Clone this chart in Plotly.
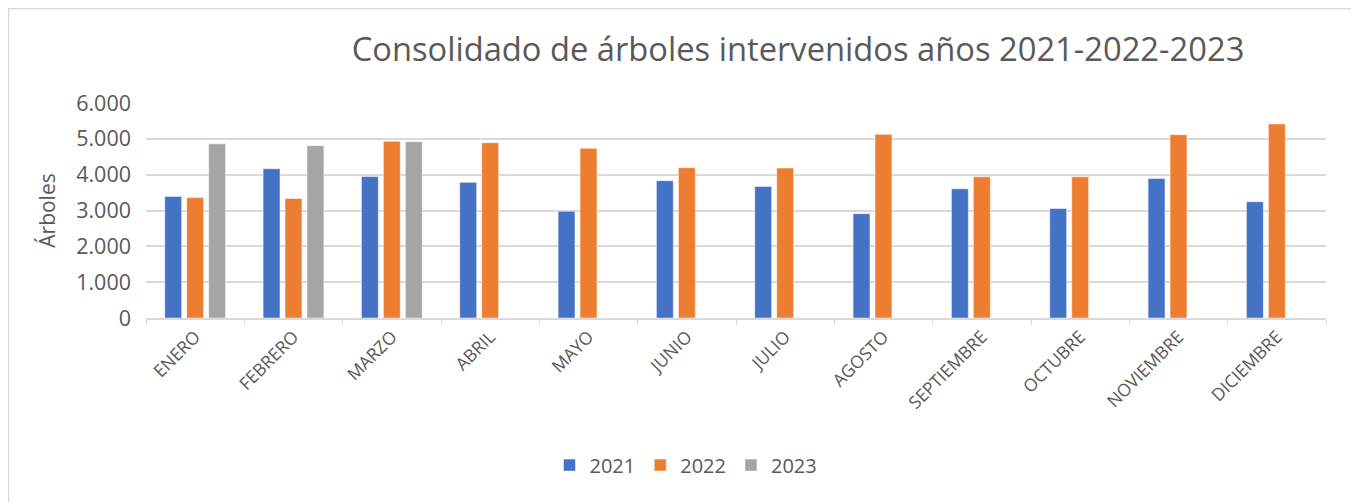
import plotly.graph_objects as go

months = ["ENERO", "FEBRERO", "MARZO", "ABRIL", "MAYO", "JUNIO", "JULIO",
          "AGOSTO", "SEPTIEMBRE", "OCTUBRE", "NOVIEMBRE", "DICIEMBRE"]
v2021 = [3390, 4165, 3950, 3785, 2980, 3830, 3670, 2910, 3605, 3055, 3895, 3245]
v2022 = [3360, 3335, 4930, 4890, 4735, 4195, 4185, 5125, 3940, 3940, 5115, 5415]
v2023 = [4860, 4810, 4920, None, None, None, None, None, None, None, None, None]

font_family = "Open Sans, Liberation Sans, sans-serif"
txt = "#595959"

fig = go.Figure()
fig.add_bar(x=months, y=v2021, name="2021", marker=dict(color="#4472C4", line=dict(color="#ffffff", width=0.5)))
fig.add_bar(x=months, y=v2022, name="2022", marker=dict(color="#ED7D31", line=dict(color="#ffffff", width=0.5)))
fig.add_bar(x=months, y=v2023, name="2023", marker=dict(color="#A5A5A5", line=dict(color="#ffffff", width=0.5)))

# page body has an 8px margin: compensate
fig.update_layout(
    width=1359, height=502,
    margin=dict(l=138, r=41, t=95, b=192, autoexpand=False),
    paper_bgcolor="white", plot_bgcolor="white",
    barmode="group", bargap=0.33, bargroupgap=0.23,
    separators=",.",
    font=dict(family=font_family, color=txt),
    title=dict(text="Consolidado de árboles intervenidos años 2021-2022-2023",
               x=0.5813, xanchor="center", y=0.9163, yanchor="middle",
               font=dict(size=32.7, color=txt, family=font_family)),
    legend=dict(orientation="h", x=0.4576, xanchor="center", y=-0.684, yanchor="middle",
                font=dict(size=20, color=txt), itemwidth=30, traceorder="normal"),
    showlegend=True,
)
fig.update_xaxes(
    tickangle=-45, tickfont=dict(size=17.5, color=txt),
    showline=True, linecolor="#d9d9d9", linewidth=1.5,
    ticks="outside", tickson="boundaries", ticklen=5, tickcolor="#d9d9d9",
    showgrid=False, automargin=False,
)
fig.update_yaxes(
    range=[0, 6000], dtick=1000, tickformat=",d",
    tickfont=dict(size=21.5, color=txt), ticklabelstandoff=14,
    showgrid=True, gridcolor="#d9d9d9", gridwidth=1.5,
    zeroline=False, showline=False, automargin=False,
    title=dict(text="Árboles", font=dict(size=21, color=txt), standoff=14),
)
fig.add_shape(type="rect", xref="paper", yref="paper",
              x0=-0.1165, x1=1.0246, y0=-1.0, y1=1.4395,
              line=dict(color="#d9d9d9", width=1.5), fillcolor="rgba(0,0,0,0)", layer="below")

fig.write_html("out.html")
